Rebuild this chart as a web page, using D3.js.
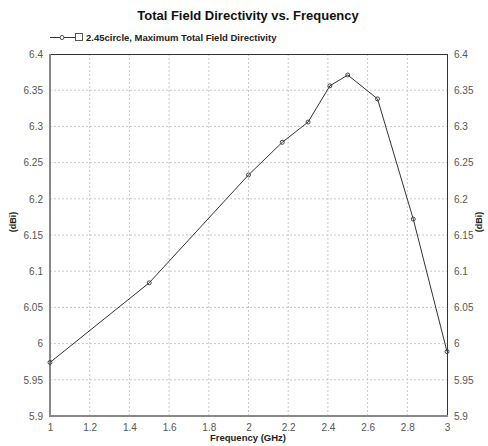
<!DOCTYPE html>
<html><head><meta charset="utf-8">
<script src="https://cdn.jsdelivr.net/npm/d3@7"></script>
<style>
body{margin:0;background:#fff;}
text{font-family:"Liberation Sans",Arial,sans-serif;}
</style></head>
<body><svg id="c" width="488" height="446"></svg>
<script>
const freq = [1, 1.5, 2.0, 2.17, 2.3, 2.41, 2.5, 2.65, 2.83, 3];
const directivity = [5.974, 6.084, 6.233, 6.278, 6.306, 6.356, 6.371, 6.338, 6.172, 5.989];
const xTicks = [1, 1.2, 1.4, 1.6, 1.8, 2, 2.2, 2.4, 2.6, 2.8, 3];
const yTicks = [5.9, 5.95, 6, 6.05, 6.1, 6.15, 6.2, 6.25, 6.3, 6.35, 6.4];
const title = "Total Field Directivity vs. Frequency";
const legendLabel = "2.45circle, Maximum Total Field Directivity";
const xLabel = "Frequency (GHz)";
const yLabel = "(dBi)";

const svg = d3.select("#c");
const L = 50, R = 447, T = 54, B = 416;
const x = d3.scaleLinear().domain([1, 3]).range([L, R]);
const y = d3.scaleLinear().domain([5.9, 6.4]).range([B, T]);

// grid
svg.append("g").selectAll("line").data(xTicks.slice(1, -1)).join("line")
  .attr("x1", d => x(d)).attr("x2", d => x(d)).attr("y1", T).attr("y2", B)
  .attr("stroke", "#c8c8c8").attr("stroke-dasharray", "2,2");
svg.append("g").selectAll("line").data(yTicks.slice(1, -1)).join("line")
  .attr("y1", d => y(d)).attr("y2", d => y(d)).attr("x1", L).attr("x2", R)
  .attr("stroke", "#c8c8c8").attr("stroke-dasharray", "2,2");

// frame
svg.append("line").attr("x1", L).attr("x2", R).attr("y1", T + 0.5).attr("y2", T + 0.5).attr("stroke", "#333");
svg.append("line").attr("x1", R + 0.5).attr("x2", R + 0.5).attr("y1", T).attr("y2", B).attr("stroke", "#333");
svg.append("line").attr("x1", L).attr("x2", L).attr("y1", T).attr("y2", B + 1).attr("stroke", "#888").attr("stroke-width", 2);
svg.append("line").attr("x1", L).attr("x2", R + 1).attr("y1", B).attr("y2", B).attr("stroke", "#888").attr("stroke-width", 2);

// axes labels via d3 axes
const fmt = d => String(+d.toFixed(2));
const yl = svg.append("g").attr("transform", `translate(${L - 7},0)`)
  .call(d3.axisLeft(y).tickValues(yTicks).tickFormat(fmt).tickSize(0));
const yr = svg.append("g").attr("transform", `translate(${R + 7},0)`)
  .call(d3.axisRight(y).tickValues(yTicks).tickFormat(fmt).tickSize(0));
const xb = svg.append("g").attr("transform", `translate(0,${B + 5})`)
  .call(d3.axisBottom(x).tickValues(xTicks).tickFormat(fmt).tickSize(0));
[yl, yr, xb].forEach(g => {
  g.select(".domain").remove();
  g.selectAll("text").attr("fill", "#555").style("font-size", "10px");
  g.selectAll("text").attr("font-family", null);
});
yl.selectAll("text").attr("x", 0);
yr.selectAll("text").attr("x", 0);

// line
svg.append("path").datum(freq.map((f, i) => [f, directivity[i]]))
  .attr("fill", "none").attr("stroke", "#333").attr("stroke-width", 1)
  .attr("d", d3.line().x(d => x(d[0])).y(d => y(d[1])));
svg.append("g").selectAll("circle").data(freq.map((f, i) => [f, directivity[i]])).join("circle")
  .attr("cx", d => x(d[0])).attr("cy", d => y(d[1])).attr("r", 2)
  .attr("fill", "none").attr("stroke", "#444").attr("stroke-width", 1);

// title
svg.append("text").attr("x", 248).attr("y", 20).attr("text-anchor", "middle")
  .style("font-size", "13px").style("font-weight", "bold").attr("fill", "#111").text(title);

// legend
svg.append("line").attr("x1", 50).attr("x2", 75).attr("y1", 37.5).attr("y2", 37.5).attr("stroke", "#333");
svg.append("circle").attr("cx", 62).attr("cy", 37.5).attr("r", 2).attr("fill", "#fff").attr("stroke", "#444");
svg.append("rect").attr("x", 75.5).attr("y", 33.5).attr("width", 7).attr("height", 7).attr("fill", "#fff").attr("stroke", "#555");
svg.append("text").attr("x", 86).attr("y", 41).style("font-size", "9.5px").style("font-weight", "bold")
  .attr("fill", "#222").text(legendLabel);

// axis titles
svg.append("text").attr("x", 248).attr("y", 441).attr("text-anchor", "middle")
  .style("font-size", "9.5px").style("font-weight", "bold").attr("fill", "#222").text(xLabel);
svg.append("text").attr("transform", "translate(16,222) rotate(-90)").attr("text-anchor", "middle")
  .style("font-size", "9px").style("font-weight", "bold").attr("fill", "#222").text(yLabel);
svg.append("text").attr("transform", "translate(482,222) rotate(-90)").attr("text-anchor", "middle")
  .style("font-size", "9px").style("font-weight", "bold").attr("fill", "#222").text(yLabel);
</script></body></html>
